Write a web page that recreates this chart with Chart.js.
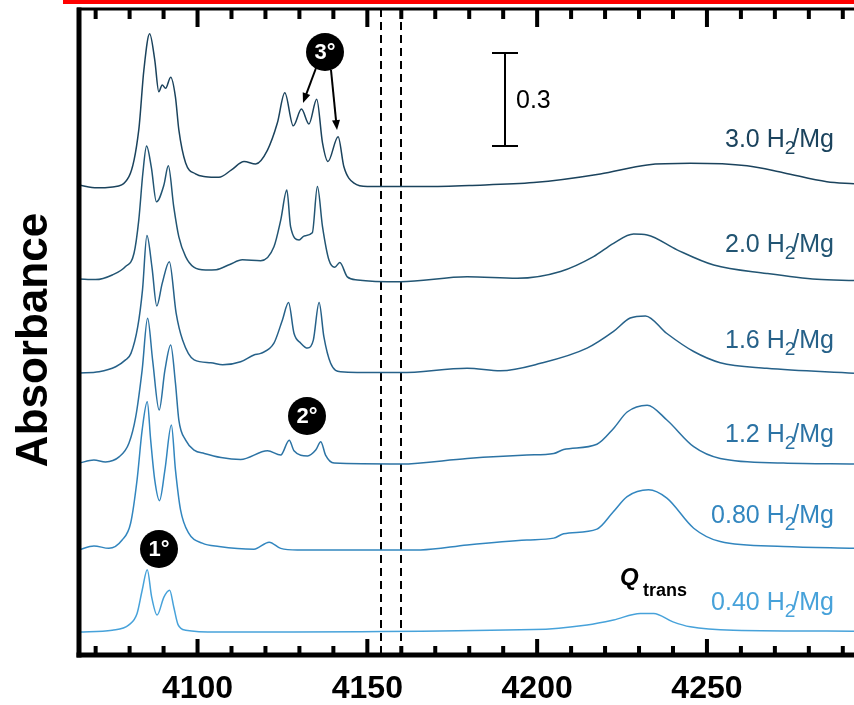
<!DOCTYPE html>
<html>
<head>
    <title>H2/Mg IR spectra</title>
    <meta charset="utf-8" />
    <script src="https://cdn.jsdelivr.net/npm/chart.js"></script>
    <style>
        body { margin: 0; background: #fff; }
        #wrap { width: 854px; height: 705px; position: relative; }
    </style>
</head>
<body>
    <div id="wrap"><canvas id="myChart"></canvas></div>
    <script>
        // loadings (H2 per Mg) and the vertical offset of each trace (absorbance units)
        var loadings = ['3.0', '2.0', '1.6', '1.2', '0.80', '0.40'];
        var offsets = [1.510, 1.213, 0.910, 0.619, 0.339, 0.074];
        var colors = ['#1b435d', '#225573', '#266189', '#2c73a4', '#3286bf', '#47a2da'];

        // [wavenumber cm-1, absorbance above baseline]
        var h30 = [[4065.1,0.006],[4070.4,-0.003],[4075,0],[4079.8,0.033],[4082.7,0.184],[4084.2,0.377],[4085.9,0.494],[4087.4,0.41],[4088.6,0.307],[4089.6,0.329],[4090.6,0.318],[4092.1,0.354],[4093.5,0.29],[4094.5,0.184],[4096.5,0.077],[4099.4,0.042],[4102.4,0.033],[4106.3,0.031],[4110,0.055],[4113.7,0.082],[4117.1,0.074],[4120.6,0.119],[4123.5,0.206],[4125.7,0.304],[4128.2,0.197],[4130.6,0.251],[4132.8,0.203],[4135.1,0.283],[4136.8,0.142],[4138.4,0.082],[4141.4,0.162],[4143.1,0.065],[4146.1,0.012],[4150,0.001],[4165.7,0.001],[4180,0.005],[4199,0.014],[4218.6,0.042],[4232.4,0.071],[4245.1,0.076],[4261.8,0.068],[4272.5,0.046],[4285.3,0.017],[4293.3,0.010]];
        var h20 = [[4065.1,0],[4070,-0.002],[4074.9,0.013],[4078.8,0.04],[4081.3,0.083],[4082.7,0.19],[4083.9,0.341],[4085,0.429],[4086.4,0.36],[4087.9,0.249],[4090.1,0.303],[4091.4,0.365],[4093,0.233],[4094.5,0.136],[4096.5,0.072],[4098.9,0.038],[4102.4,0.029],[4105.5,0.03],[4109.5,0.047],[4113.2,0.062],[4118.6,0.059],[4122.5,0.104],[4124.5,0.19],[4126.3,0.287],[4127.4,0.169],[4129.9,0.126],[4131.4,0.139],[4133.8,0.149],[4135.3,0.298],[4136.8,0.169],[4138.7,0.061],[4140.4,0.038],[4141.9,0.053],[4144.1,0.007],[4147.1,-0.003],[4159.8,-0.009],[4179.4,0.007],[4194.1,0.002],[4206.9,0.024],[4216.6,0.072],[4222.5,0.115],[4228.4,0.145],[4232.4,0.142],[4241.2,0.094],[4252,0.045],[4267.6,0.018],[4282.4,-0.001],[4293.3,-0.005]];
        var h16 = [[4065.1,0],[4071,0.004],[4075.9,0.02],[4078.8,0.042],[4080.4,0.063],[4082.4,0.149],[4083.8,0.268],[4085.1,0.443],[4086.6,0.34],[4088,0.216],[4089.6,0.289],[4091.7,0.359],[4093.7,0.193],[4095.6,0.106],[4099,0.042],[4103.9,0.033],[4107.4,0.026],[4112.7,0.036],[4116.6,0.058],[4118.6,0.063],[4122.5,0.096],[4125,0.171],[4126.8,0.227],[4128.4,0.128],[4130.4,0.096],[4132.4,0.08],[4134.1,0.106],[4135.8,0.227],[4137.2,0.117],[4139.2,0.031],[4142.1,0.004],[4153.9,0.001],[4159.8,0.001],[4179.4,0.015],[4189.2,0.007],[4201,0.031],[4214.7,0.08],[4222.5,0.134],[4227.4,0.177],[4231.9,0.184],[4238.1,0.128],[4246.1,0.069],[4253.9,0.033],[4267.6,0.015],[4293.3,-0.001]];
        var h12 = [[4065.1,0],[4069.5,0.01],[4072.9,0.004],[4076.9,0.02],[4079.8,0.064],[4081.8,0.149],[4083.7,0.301],[4085.3,0.467],[4086.8,0.33],[4088.7,0.171],[4090.4,0.3],[4092.1,0.381],[4093.5,0.258],[4094.5,0.139],[4096.5,0.074],[4099,0.042],[4102,0.031],[4106.9,0.018],[4112.7,0.012],[4120.6,0.04],[4124.5,0.026],[4127,0.074],[4128.4,0.04],[4132.4,0.023],[4134.8,0.042],[4136.3,0.069],[4137.7,0.026],[4140.2,0],[4159.8,-0.003],[4179.4,0.015],[4197,0.026],[4204.9,0.031],[4207.8,0.044],[4217.6,0.061],[4222.5,0.112],[4226.5,0.165],[4232.4,0.187],[4238.2,0.139],[4246.1,0.053],[4253.9,0.015],[4272.5,0],[4293.3,-0.003]];
        var h08 = [[4065.1,0],[4069.5,0.013],[4073.9,0.005],[4077.8,0.032],[4080.3,0.086],[4082.2,0.226],[4083.7,0.387],[4085.2,0.478],[4086.2,0.355],[4087.4,0.226],[4088.8,0.159],[4090.4,0.258],[4092.3,0.403],[4093.5,0.258],[4095,0.129],[4097.4,0.054],[4101.4,0.022],[4106.3,0.011],[4116.6,0.002],[4121.1,0.025],[4124.5,0.005],[4129.4,0],[4165.7,0],[4179.4,0.016],[4197,0.032],[4204.9,0.038],[4207.8,0.052],[4217.6,0.067],[4222.5,0.124],[4226.5,0.172],[4232.8,0.194],[4238.2,0.167],[4246.1,0.07],[4253.9,0.027],[4272.5,0.011],[4293.3,0.005]];
        var h04 = [[4065.1,0],[4074.9,0.006],[4079.8,0.023],[4082.2,0.06],[4083.7,0.135],[4085.2,0.201],[4086.5,0.113],[4088.1,0.055],[4090.1,0.113],[4091.8,0.135],[4093,0.081],[4094.3,0.023],[4096.5,0.006],[4106,0],[4199,0.008],[4214.7,0.023],[4222.5,0.039],[4230.4,0.06],[4234.3,0.06],[4240,0.033],[4245.1,0.017],[4257.8,0.006],[4293.3,0.003]];
        var spectra = [h30, h20, h16, h12, h08, h04];

        var xMajorTicks = [4100, 4150, 4200, 4250];
        var dashedLines = [4154, 4160];
        var scaleBar = 0.3;

        var datasets = spectra.map(function (s, i) {
            return {
                label: loadings[i] + ' H2/Mg',
                data: s.map(function (p) { return { x: p[0], y: p[1] + offsets[i] }; }),
                borderColor: colors[i],
                borderWidth: 1.5,
                pointRadius: 0,
                cubicInterpolationMode: 'monotone',
                fill: false
            };
        });

        var FONT = "'Liberation Sans', Arial, sans-serif";

        function badge(ctx, x, y, txt) {
            ctx.fillStyle = '#000';
            ctx.beginPath();
            ctx.arc(x, y, 19, 0, Math.PI * 2);
            ctx.fill();
            ctx.fillStyle = '#fff';
            ctx.font = 'bold 22px ' + FONT;
            ctx.textAlign = 'center';
            ctx.textBaseline = 'middle';
            ctx.fillText(txt, x, y + 1);
        }

        function arrow(ctx, x1, y1, x2, y2) {
            var a = Math.atan2(y2 - y1, x2 - x1);
            ctx.strokeStyle = '#000';
            ctx.fillStyle = '#000';
            ctx.lineWidth = 2;
            ctx.beginPath();
            ctx.moveTo(x1, y1);
            ctx.lineTo(x2 - 6 * Math.cos(a), y2 - 6 * Math.sin(a));
            ctx.stroke();
            ctx.beginPath();
            ctx.moveTo(x2, y2);
            ctx.lineTo(x2 - 10 * Math.cos(a) + 4 * Math.sin(a), y2 - 10 * Math.sin(a) - 4 * Math.cos(a));
            ctx.lineTo(x2 - 10 * Math.cos(a) - 4 * Math.sin(a), y2 - 10 * Math.sin(a) + 4 * Math.cos(a));
            ctx.closePath();
            ctx.fill();
        }

        var decorations = {
            id: 'decorations',
            beforeDatasetsDraw: function (chart) {
                var ctx = chart.ctx, x = chart.scales.x, a = chart.chartArea;
                ctx.save();
                ctx.strokeStyle = '#000';
                ctx.lineWidth = 2;
                ctx.setLineDash([8, 5]);
                dashedLines.forEach(function (v) {
                    var px = Math.round(x.getPixelForValue(v));
                    ctx.beginPath();
                    ctx.moveTo(px, a.top);
                    ctx.lineTo(px, a.bottom);
                    ctx.stroke();
                });
                ctx.restore();
            },
            afterDraw: function (chart) {
                var ctx = chart.ctx, x = chart.scales.x, y = chart.scales.y, a = chart.chartArea;
                ctx.save();

                // red rule at the very top
                ctx.fillStyle = '#ff0000';
                ctx.fillRect(63, 0, 791, 4);

                // frame
                ctx.fillStyle = '#000';
                ctx.fillRect(a.left - 2, a.top - 1.5, a.right - a.left + 2, 3);
                ctx.fillRect(a.left - 2.5, a.top - 1.5, 5, a.bottom - a.top + 4);
                ctx.fillRect(a.left - 2.5, a.bottom - 2.5, a.right - a.left + 2.5, 5);

                // inward ticks, minor every 10, major every 50
                for (var v = 4070; v <= 4290; v += 10) {
                    var px = x.getPixelForValue(v);
                    var major = xMajorTicks.indexOf(v) >= 0;
                    var lb = major ? 16 : 9, lt = major ? 18 : 10;
                    ctx.fillRect(px - 2, a.bottom - lb, 4, lb);
                    ctx.fillRect(px - 2, a.top, 4, lt);
                }

                // tick labels
                ctx.font = 'bold 32px ' + FONT;
                ctx.textAlign = 'center';
                ctx.textBaseline = 'alphabetic';
                xMajorTicks.forEach(function (v) {
                    ctx.fillText(String(v), x.getPixelForValue(v), 698);
                });

                // y title
                ctx.save();
                ctx.translate(35, 340);
                ctx.rotate(-Math.PI / 2);
                ctx.font = 'bold 44px ' + FONT;
                ctx.textBaseline = 'middle';
                ctx.fillText('Absorbance', 0, 0);
                ctx.restore();

                // scale bar
                var len = y.getPixelForValue(0) - y.getPixelForValue(scaleBar);
                var top = 53, bx = 505;
                ctx.fillRect(bx - 1, top, 2, len);
                ctx.fillRect(bx - 13, top - 1, 26, 2);
                ctx.fillRect(bx - 13, top + len - 1, 26, 2);
                ctx.font = '25px ' + FONT;
                ctx.textAlign = 'left';
                ctx.fillText(String(scaleBar), 516, 108);

                // series labels
                var baselines = [147, 252, 348, 442, 523, 610];
                loadings.forEach(function (l, i) {
                    ctx.fillStyle = colors[i];
                    ctx.font = '25px ' + FONT;
                    var w1 = ctx.measureText(l + ' H').width;
                    var w3 = ctx.measureText('/Mg').width;
                    ctx.font = '19px ' + FONT;
                    var w2 = ctx.measureText('2').width;
                    var x0 = 834 - (w1 + w2 + w3 - 3);
                    ctx.font = '25px ' + FONT;
                    ctx.fillText(l + ' H', x0, baselines[i]);
                    ctx.fillText('/Mg', x0 + w1 + w2 - 3, baselines[i]);
                    ctx.font = '19px ' + FONT;
                    ctx.fillText('2', x0 + w1, baselines[i] + 7);
                });

                // Q trans
                ctx.fillStyle = '#000';
                ctx.font = 'italic bold 24px ' + FONT;
                ctx.fillText('Q', 620, 585);
                ctx.font = 'bold 18px ' + FONT;
                ctx.fillText('trans', 643, 596);

                // site badges and arrows
                arrow(ctx, 316, 68, 303, 103);
                arrow(ctx, 331, 70, 337, 130);
                badge(ctx, 325, 52, '3°');
                badge(ctx, 307, 416, '2°');
                badge(ctx, 159, 549, '1°');

                ctx.restore();
            }
        };

        var ctx = document.getElementById('myChart').getContext('2d');
        var myChart = new Chart(ctx, {
            type: 'line',
            data: { datasets: datasets },
            options: {
                responsive: true,
                maintainAspectRatio: false,
                animation: false,
                layout: { padding: { left: 79, top: 9, right: 0, bottom: 50 } },
                plugins: { legend: { display: false }, tooltip: { enabled: false } },
                scales: {
                    x: { type: 'linear', min: 4065.1, max: 4293.3, display: false },
                    y: { min: 0, max: 2.084, display: false }
                }
            },
            plugins: [decorations]
        });
    </script>
</body>
</html>
